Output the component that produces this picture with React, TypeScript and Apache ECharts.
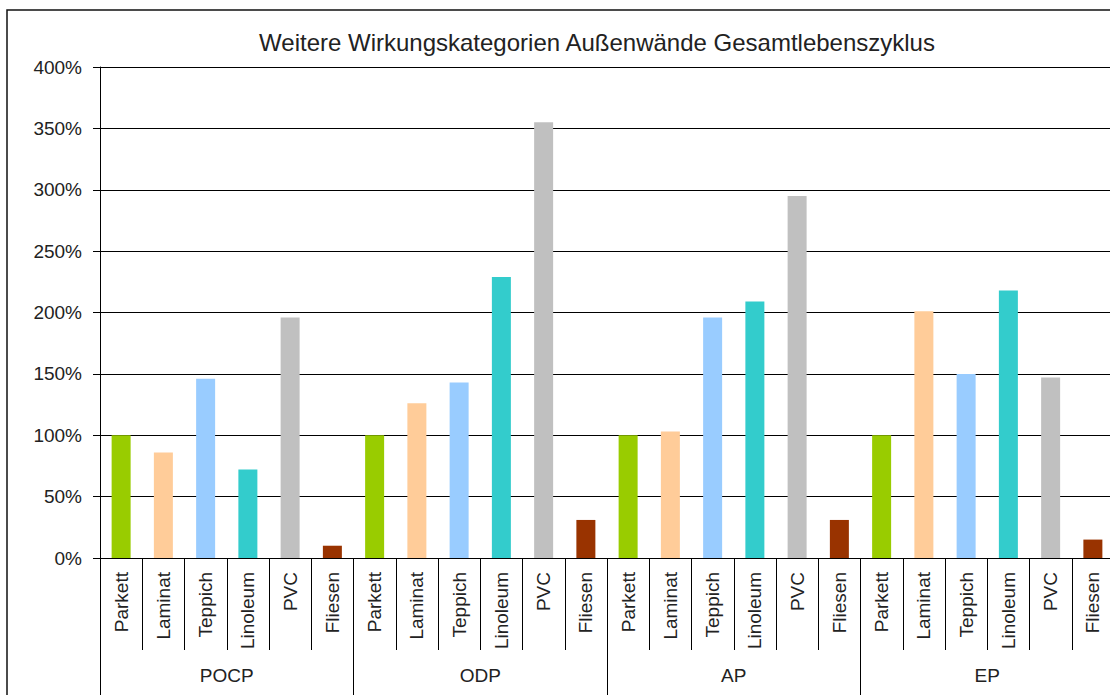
import React, { useEffect, useRef } from "react";
import * as echarts from "echarts";

const groups = ["POCP", "ODP", "AP", "EP"];
const materials = ["Parkett", "Laminat", "Teppich", "Linoleum", "PVC", "Fliesen"];
const materialColors = ["#99cc00", "#ffcc99", "#99ccff", "#33cccc", "#c0c0c0", "#993300"];
const pocp = [100, 86, 146, 72, 196, 10];
const odp = [100, 126, 143, 229, 355, 31];
const ap = [100, 103, 196, 209, 295, 31];
const ep = [100, 201, 150, 218, 147, 15];
const yTicks = [0, 50, 100, 150, 200, 250, 300, 350, 400];
const titleText = "Weitere Wirkungskategorien Außenwände Gesamtlebenszyklus";

const FONT = "'Liberation Sans', Arial, sans-serif";

export default function App() {
  const ref = useRef<HTMLDivElement>(null);
  useEffect(() => {
    if (!ref.current) return;
    const chart = echarts.init(ref.current, undefined, { renderer: "svg" });
    const seriesValues = [pocp, odp, ap, ep];
    const cats: string[] = [];
    const data: any[] = [];
    seriesValues.forEach((vals) => {
      vals.forEach((v, i) => {
        cats.push(materials[i]);
        data.push({ value: v, itemStyle: { color: materialColors[i] } });
      });
    });
    chart.setOption({
      animation: false,
      backgroundColor: "#fff",
      title: {
        text: titleText,
        left: 592,
        top: 25,
        textAlign: "center",
        textStyle: { fontFamily: FONT, fontSize: 24, fontWeight: "normal", color: "#222" },
      },
      graphic: [
        {
          type: "rect",
          shape: { x: 7, y: 10, width: 1200, height: 800 },
          style: { fill: "none", stroke: "#111", lineWidth: 1.5 },
          silent: true,
        },
      ],
      grid: { left: 100, top: 67, width: 1014, height: 491, containLabel: false },
      xAxis: [
        {
          type: "category",
          data: cats,
          position: "bottom",
          axisLine: { show: true, lineStyle: { color: "#000", width: 1 } },
          axisTick: { show: true, length: 92, interval: 0, lineStyle: { color: "#000" } },
          axisLabel: {
            interval: 0,
            rotate: 90,
            margin: 14,
            fontFamily: FONT,
            fontSize: 19,
            color: "#222",
          },
        },
        {
          type: "category",
          data: groups,
          position: "bottom",
          axisLine: { show: false },
          axisTick: { show: true, length: 140, interval: 0, lineStyle: { color: "#000" } },
          axisLabel: {
            interval: 0,
            margin: 108,
            fontFamily: FONT,
            fontSize: 19,
            color: "#222",
          },
        },
      ],
      yAxis: {
        type: "value",
        min: yTicks[0],
        max: yTicks[yTicks.length - 1],
        interval: 50,
        axisLine: { show: true, lineStyle: { color: "#000" } },
        axisTick: { show: true, length: 7, lineStyle: { color: "#000" } },
        axisLabel: {
          margin: 18,
          fontFamily: FONT,
          fontSize: 19,
          color: "#222",
          formatter: "{value}%",
        },
        splitLine: { show: true, lineStyle: { color: "#000", width: 1 } },
      },
      series: [
        {
          type: "bar",
          xAxisIndex: 0,
          data,
          barWidth: 19,
        },
      ],
    });
    return () => chart.dispose();
  }, []);
  return (
    <div style={{ position: "fixed", left: 0, top: 0, width: 1110, height: 695, overflow: "hidden", background: "#fff" }}>
      <div ref={ref} style={{ width: 1130, height: 715 }} />
    </div>
  );
}
